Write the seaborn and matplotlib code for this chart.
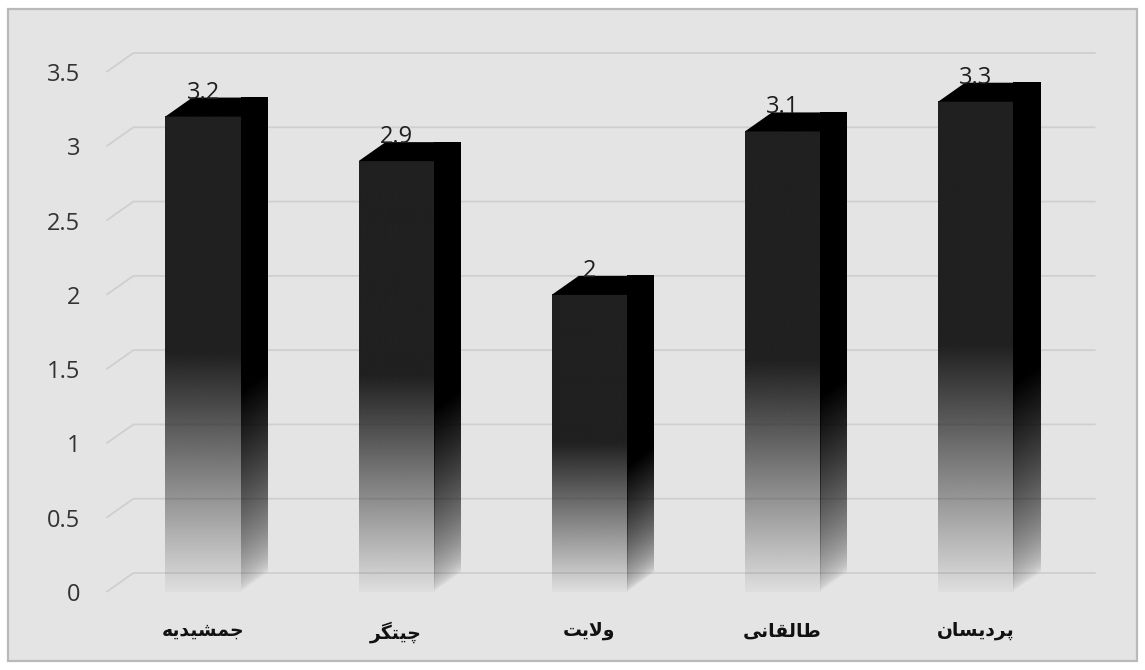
import numpy as np
import matplotlib
matplotlib.use("Agg")
import matplotlib.pyplot as plt
import seaborn as sns
import pandas as pd
from matplotlib.patches import Polygon, Rectangle
from matplotlib.transforms import offset_copy

# ---------------- data ----------------
categories = ["جمشیدیه", "چیتگر", "ولایت", "طالقانی", "پردیسان"]
values = [3.2, 2.9, 2.0, 3.1, 3.3]
y_ticks = [0, 0.5, 1, 1.5, 2, 2.5, 3, 3.5]

# ---------------- minimal Persian shaping (matplotlib has no RTL/joining) ----------------
FORMS = {  # iso, fin, ini, med
    "ج": ("\uFE9D", "\uFE9E", "\uFE9F", "\uFEA0"),
    "م": ("\uFEE1", "\uFEE2", "\uFEE3", "\uFEE4"),
    "ش": ("\uFEB5", "\uFEB6", "\uFEB7", "\uFEB8"),
    "ی": ("\uFBFC", "\uFBFD", "\uFBFE", "\uFBFF"),
    "ه": ("\uFEE9", "\uFEEA", "\uFEEB", "\uFEEC"),
    "چ": ("\uFB7A", "\uFB7B", "\uFB7C", "\uFB7D"),
    "ت": ("\uFE95", "\uFE96", "\uFE97", "\uFE98"),
    "گ": ("\uFB92", "\uFB93", "\uFB94", "\uFB95"),
    "ل": ("\uFEDD", "\uFEDE", "\uFEDF", "\uFEE0"),
    "ط": ("\uFEC1", "\uFEC2", "\uFEC3", "\uFEC4"),
    "ق": ("\uFED5", "\uFED6", "\uFED7", "\uFED8"),
    "ن": ("\uFEE5", "\uFEE6", "\uFEE7", "\uFEE8"),
    "پ": ("\uFB56", "\uFB57", "\uFB58", "\uFB59"),
    "س": ("\uFEB1", "\uFEB2", "\uFEB3", "\uFEB4"),
    "د": ("\uFEA9", "\uFEAA", None, None),
    "ر": ("\uFEAD", "\uFEAE", None, None),
    "و": ("\uFEED", "\uFEEE", None, None),
    "ا": ("\uFE8D", "\uFE8E", None, None),
}


def dual(c):
    return c in FORMS and FORMS[c][2] is not None


def shape(word):
    out = []
    i = 0
    n = len(word)
    while i < n:
        c = word[i]
        prev_joins = i > 0 and dual(word[i - 1])
        if c == "ل" and i + 1 < n and word[i + 1] == "ا":
            out.append("\uFEFC" if prev_joins else "\uFEFB")
            i += 2
            continue
        next_joins = dual(c) and i + 1 < n and word[i + 1] in FORMS
        f = FORMS[c]
        if prev_joins and next_joins:
            g = f[3]
        elif prev_joins:
            g = f[1]
        elif next_joins:
            g = f[2]
        else:
            g = f[0]
        out.append(g)
        i += 1
    return "".join(out[::-1])


# ---------------- figure ----------------
sns.set_theme(style="white")
plt.rcParams["font.family"] = ["Open Sans", "DejaVu Sans"]

W, H = 1145, 670
fig = plt.figure(figsize=(W / 100, H / 100), dpi=100)
fig.patch.set_facecolor("white")
fig.add_artist(Rectangle((8 / W, 9 / H), (W - 16) / W, (H - 18) / H,
                         transform=fig.transFigure, facecolor="#e4e4e4",
                         edgecolor="#b9b9b9", linewidth=1.6, zorder=0))

ax = fig.add_axes([106.4 / W, 78 / H, 966 / W, 520 / H])
ax.set_facecolor("none")

df = pd.DataFrame({"cat": categories, "val": values})
sns.barplot(data=df, x="cat", y="val", order=categories, color="#202020",
            width=0.39, ax=ax, zorder=3)

ax.set_xlim(-0.5, len(categories) - 0.5)
ax.set_ylim(0, 3.5)

# depth of the pseudo-3D extrusion, given in pixels -> data units
inv = ax.transData.inverted()
o = inv.transform((0, 0))
d = inv.transform((27, 19))
ddx, ddy = d[0] - o[0], d[1] - o[1]

# back-wall gridlines with perspective stub at left
x_left, x_right = ax.get_xlim()
for yt in y_ticks:
    ax.plot([x_left, x_left + ddx, x_right + ddx - 0.02], [yt, yt + ddy, yt + ddy],
            color="#cfcfcf", lw=1.3, zorder=1, clip_on=False, solid_capstyle="butt")

# gradients
N = 256
fy = np.linspace(0, 1, N)
front_alpha = np.where(fy >= 0.5, 1.0, 0.03 + 0.97 * (fy / 0.5))
front_rgba = np.zeros((N, 1, 4))
front_rgba[..., 0:3] = 0x20 / 255
front_rgba[..., 3] = front_alpha[:, None]

M = 40
for patch, v in zip(ax.patches, values):
    x0 = patch.get_x()
    w = patch.get_width()
    h = patch.get_height()
    patch.set_alpha(0)
    # front face
    ax.imshow(front_rgba, extent=[x0, x0 + w, 0, h], origin="lower",
              aspect="auto", interpolation="bilinear", zorder=3)
    # side face: gradient follows the receding face (slanted)
    ys = np.linspace(0, h + ddy, N)[:, None]
    ts = np.linspace(0, 1, M)[None, :]
    loc = np.clip((ys - ts * ddy) / h, 0, 1)
    sa = np.clip((loc / 0.42), 0, 1) ** 0.6
    side_rgba = np.zeros((N, M, 4))
    side_rgba[..., 3] = sa
    side = Polygon([(x0 + w, 0), (x0 + w, h), (x0 + w + ddx, h + ddy), (x0 + w + ddx, ddy)],
                   closed=True, transform=ax.transData, facecolor="none", edgecolor="none")
    ax.add_patch(side)
    im = ax.imshow(side_rgba, extent=[x0 + w, x0 + w + ddx, 0, h + ddy], origin="lower",
                   aspect="auto", interpolation="bilinear", zorder=3, clip_on=False)
    im.set_clip_path(side)
    # top face
    ax.add_patch(Polygon([(x0, h), (x0 + w, h), (x0 + w + ddx, h + ddy), (x0 + ddx, h + ddy)],
                         closed=True, facecolor="#000000", edgecolor="none", zorder=4,
                         clip_on=False))
    # value label
    ax.text(x0 + w / 2, h + ddy, f"{v:g}", ha="center", va="baseline",
            fontsize=17, color="#1e1e1e", zorder=5,
            transform=offset_copy(ax.transData, fig=fig, y=-1, units="dots"))

ax.set_xlim(x_left, x_right)
ax.set_ylim(0, 3.5)

ax.set_yticks(y_ticks)
ax.set_yticklabels([f"{t:g}" for t in y_ticks], fontsize=17, color="#333333")
ax.set_xticks(range(len(categories)))
ax.set_xticklabels([shape(c) for c in categories], fontsize=13.5, color="#111111",
                   family=["DejaVu Sans"], fontweight="bold")
ax.tick_params(axis="y", length=0, pad=19)
ax.tick_params(axis="x", length=0, pad=21)
ax.set_xlabel("")
ax.set_ylabel("")
for s in ax.spines.values():
    s.set_visible(False)

fig.savefig("out.png", dpi=100)
